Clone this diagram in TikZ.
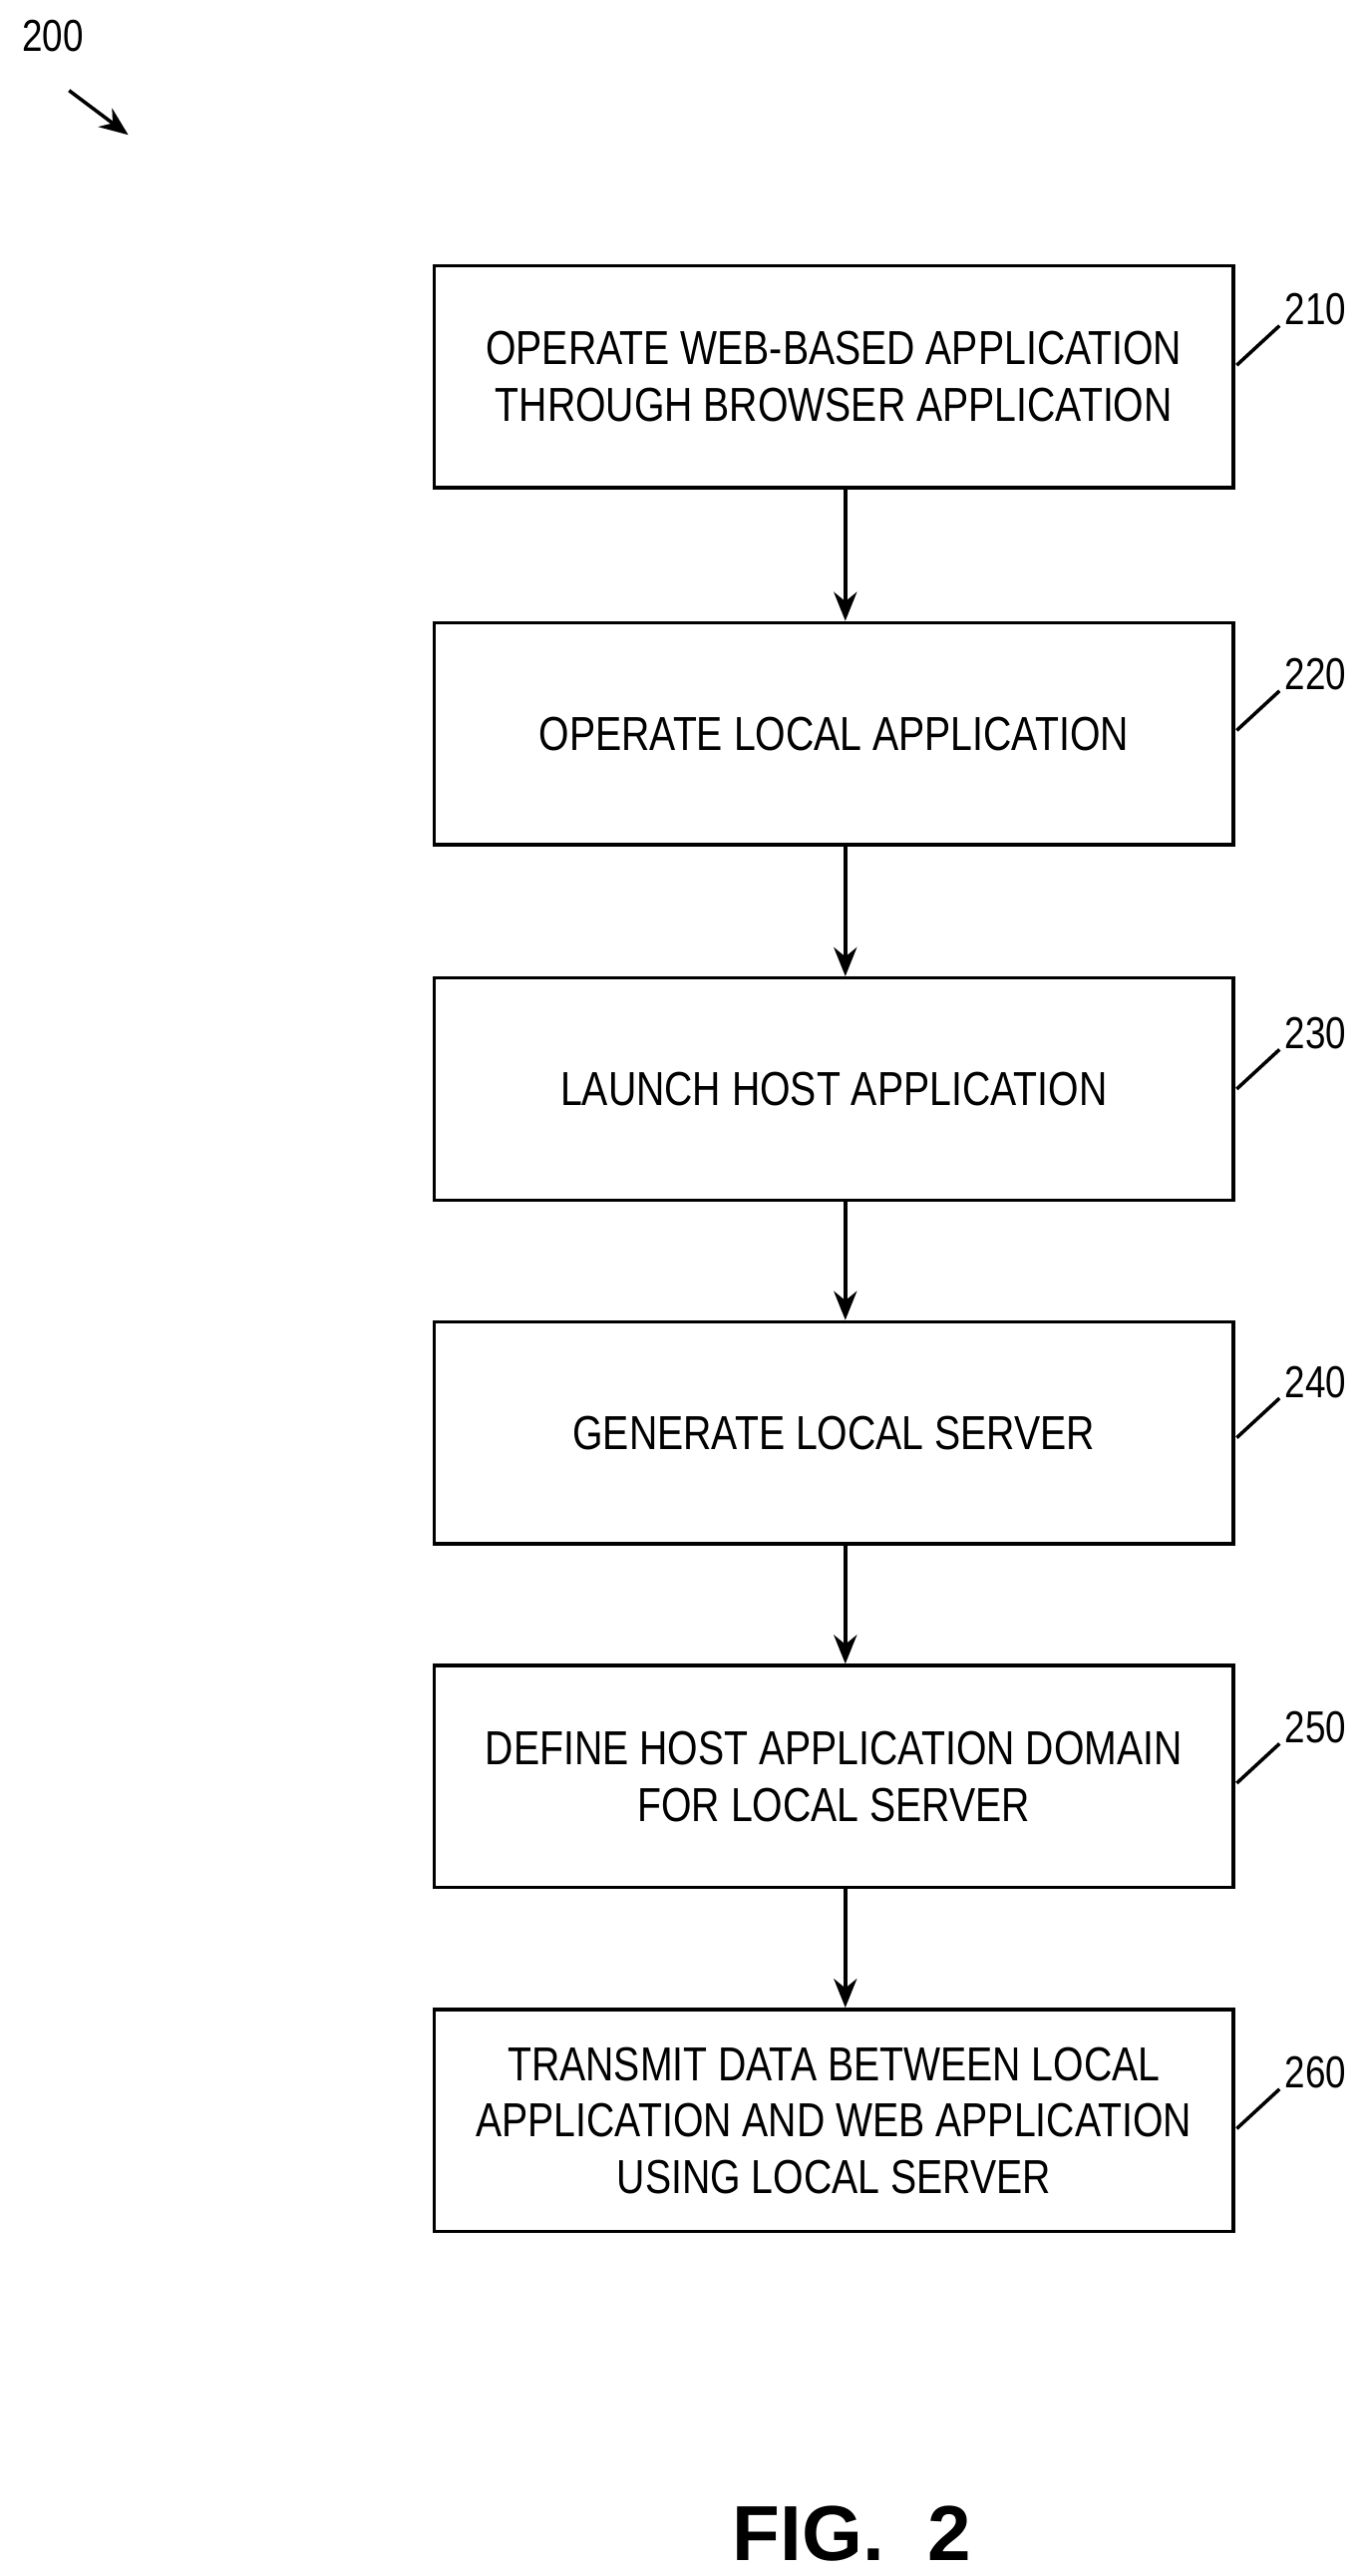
\documentclass[tikz,border=0pt]{standalone}
\usepackage{fontspec}
\setmainfont{Liberation Sans}[FakeStretch=0.82]
\newfontfamily\figfont{Liberation Sans}
\usetikzlibrary{positioning,arrows.meta}
\tikzset{
  stepbox/.style={draw, line width=1.2pt, minimum width=9.72cm, minimum height=2.7cm, align=center, font=\fontsize{16.5}{19.5}\selectfont},
  flow/.style={-{Stealth[length=10pt,width=8pt]}, line width=1.2pt},
  tag/.style={font=\fontsize{15.5}{18}\selectfont}
}
\begin{document}
\begin{tikzpicture}[x=0.02cm,y=-0.02cm]
\useasboundingbox (0,0) rectangle (830,1566);
% fig number and pointer
\node[tag] (fig) at (32,22) {200};
\coordinate (p1) at (42,55);
\coordinate (p2) at (78,82);
\draw[flow] (p1) -- (p2);

\node[stepbox] (s210) at (507,229) {OPERATE WEB-BASED APPLICATION\\THROUGH BROWSER APPLICATION};
\node[stepbox] (s220) at (507,446) {OPERATE LOCAL APPLICATION};
\node[stepbox] (s230) at (507,662) {LAUNCH HOST APPLICATION};
\node[stepbox] (s240) at (507,871) {GENERATE LOCAL SERVER};
\node[stepbox] (s250) at (507,1080) {DEFINE HOST APPLICATION DOMAIN\\FOR LOCAL SERVER};
\node[stepbox] (s260) at (507,1289) {TRANSMIT DATA BETWEEN LOCAL\\APPLICATION AND WEB APPLICATION\\USING LOCAL SERVER};

\foreach \a/\b in {s210/s220,s220/s230,s230/s240,s240/s250,s250/s260}
  \draw[flow] ([xshift=0.14cm]\a.south) -- ([xshift=0.14cm]\b.north);

% reference numerals
\foreach \n/\y in {210/188,220/410,230/628,240/840,250/1050,260/1260} {
  \node[tag] (l\n) at (800,\y) {\n};
  \draw[line width=1.2pt] (752,\y+34) -- (778,\y+10);
}

\node[font=\figfont\bfseries\fontsize{27}{32}\selectfont] (title) at (518,1540) {FIG.\ \ 2};
\end{tikzpicture}
\end{document}
